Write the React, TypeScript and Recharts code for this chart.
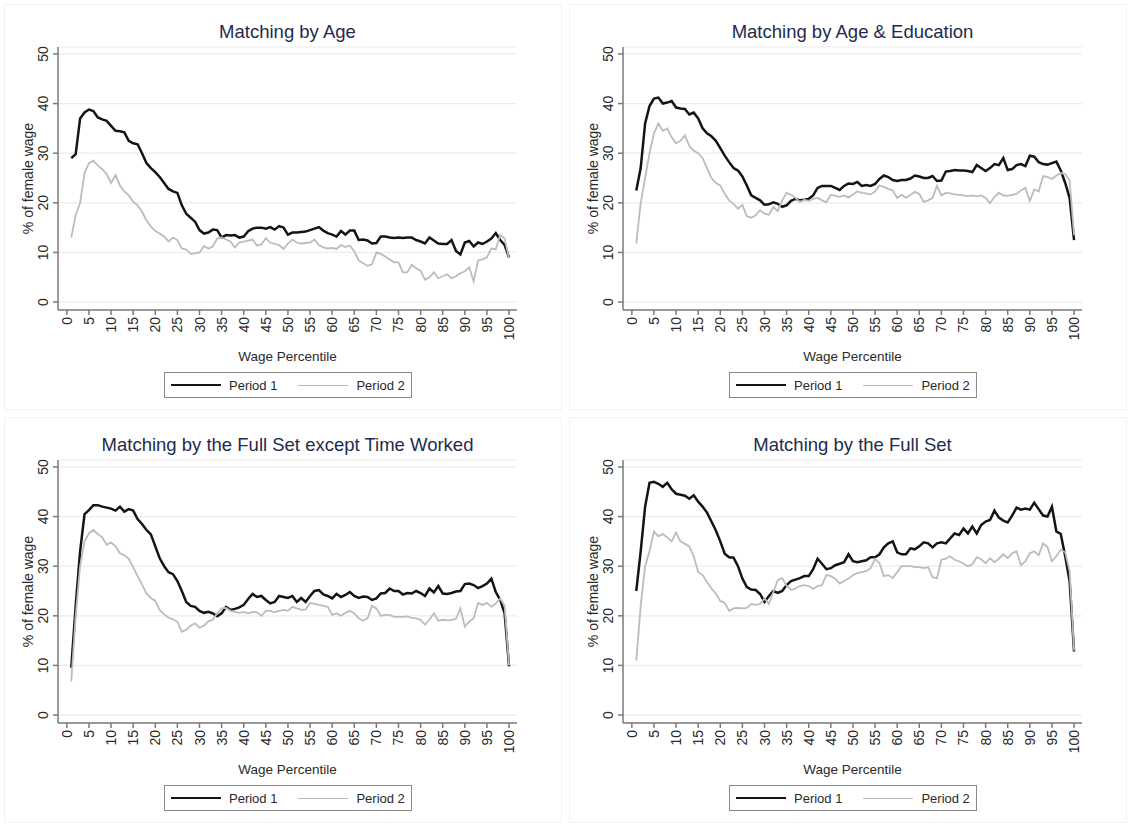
import { CartesianGrid, Label, Line, LineChart, XAxis, YAxis } from "recharts"

const percentiles = Array.from({ length: 100 }, (_, i) => i + 1)
const xTicks = [0, 5, 10, 15, 20, 25, 30, 35, 40, 45, 50, 55, 60, 65, 70, 75, 80, 85, 90, 95, 100]
const yTicks = [0, 10, 20, 30, 40, 50]
const seriesNames = ["Period 1", "Period 2"]

// Matching by Age
const ageP1 = [
  29, 29.8, 37, 38.2, 38.8, 38.5, 37.2, 36.8, 36.5, 35.5,
  34.5, 34.4, 34.2, 32.5, 32, 31.8, 30, 28, 27, 26.2,
  25.2, 24, 22.8, 22.3, 22, 19.5, 17.8, 17, 16.2, 14.5,
  13.8, 14, 14.6, 14.5, 13, 13.5, 13.4, 13.5, 13, 13.2,
  14.3, 14.8, 15, 15, 14.8, 15.1, 14.6, 15.3, 15, 13.6,
  14, 14, 14.1, 14.2, 14.5, 14.8, 15.1, 14.4, 13.9, 13.6,
  13.2, 14.3, 13.6, 14.4, 14.4, 12.5, 12.6, 12.4, 11.8, 11.9,
  13.2, 13.2, 13, 12.9, 13, 12.9, 13, 13, 12.5, 12.2,
  11.8, 13, 12.4, 11.8, 11.7, 11.7, 12.5, 10.3, 9.6, 12,
  12.3, 11.2, 12, 11.7, 12.2, 12.8, 13.9, 12.5, 11.5, 9,
]
const ageP2 = [
  13, 17.5, 20, 26, 28, 28.5, 27.5, 26.8, 25.8, 24,
  25.6, 23.5, 22.3, 21.5, 20.2, 19.5, 18.2, 16.5, 15.2, 14.3,
  13.8, 13.2, 12.2, 13, 12.5, 10.8, 10.6, 9.7, 9.8, 10,
  11.3, 10.8, 11.2, 12.8, 13, 12.6, 12.2, 11, 12, 12.2,
  12.4, 12.6, 11.4, 11.6, 12.9, 12, 11.7, 11.5, 10.7, 11.8,
  12.6, 12, 11.8, 11.9, 12, 12.6, 11.5, 11, 10.8, 10.9,
  10.7, 11.5, 11.1, 11.4, 10.2, 8.4, 7.8, 7.3, 7.6, 10,
  9.7, 9.2, 8.6, 8, 8, 6, 6, 7.5, 6.8, 6.3,
  4.5, 5, 6, 4.8, 5.2, 5.6, 4.8, 5.2, 5.8, 6.2,
  7, 4.2, 8.4, 8.6, 9, 10.8, 10.6, 13.5, 12.8, 8.8,
]

// Matching by Age & Education
const ageEduP1 = [
  22.5, 27, 36, 39.5, 41, 41.2, 40, 40.2, 40.5, 39.2,
  39, 38.9, 37.8, 38.2, 37, 35, 34, 33.4, 32.5, 31,
  29.5, 28.2, 27, 26.5, 25.3, 23.5, 21.5, 21, 20.5, 19.6,
  19.7, 20.1, 19.8, 19.2, 19.5, 20.4, 20.8, 20.5, 20.6, 20.8,
  21.5, 23, 23.4, 23.4, 23.4, 23, 22.6, 23.4, 23.9, 23.8,
  24.2, 23.4, 23.6, 23.4, 23.8, 24.8, 25.5, 25.2, 24.6, 24.4,
  24.6, 24.6, 24.9, 25.5, 25.3, 25, 25, 25.4, 24.4, 24.5,
  26.3, 26.4, 26.6, 26.5, 26.5, 26.4, 26.2, 27.6, 27, 26.4,
  27, 27.8, 27.6, 29, 26.6, 26.8, 27.6, 27.8, 27.4, 29.5,
  29.3, 28.2, 27.8, 27.7, 28, 28.3, 26.5, 24, 21, 12.5,
]
const ageEduP2 = [
  11.8, 20, 25, 30, 34, 36, 34.5, 35, 33.2, 32,
  32.5, 33.6, 31.5, 30.5, 30, 29, 27, 25, 24, 23.5,
  21.8, 20.5, 19.8, 18.8, 19.6, 17.3, 17, 17.5, 18.5, 17.8,
  17.6, 19.2, 18.3, 20.5, 22, 21.6, 21, 20.2, 20.6, 20.4,
  20.8, 21, 20.5, 20.1, 21.6, 21.4, 21.2, 21.5, 21.1, 21.7,
  22.3, 22, 21.9, 21.7, 22.3, 23.5, 23.2, 22.8, 22.5, 21,
  21.6, 21, 21.6, 22.2, 21.8, 20.2, 20.5, 21, 23.4, 21.5,
  22, 21.9, 21.7, 21.6, 21.5, 21.3, 21.5, 21.3, 21.5, 21,
  19.9, 21.2, 22, 21.5, 21.4, 21.6, 21.8, 22.5, 23, 20.4,
  22.7, 22.3, 25.4, 25.2, 24.8, 25.5, 26, 25.8, 24.5, 13.5,
]

// Matching by the Full Set except Time Worked
const fullExP1 = [
  9.5, 22, 33, 40.5, 41.3, 42.3, 42.3, 42, 41.8, 41.6,
  41.2, 42, 41, 41.5, 41.2, 39.5, 38.5, 37.3, 36.4, 34,
  31.6, 30, 28.8, 28.4, 27, 25, 22.8, 22, 21.8, 21,
  20.6, 20.8, 20.5, 19.9, 20.5, 21.8, 21.2, 21.4, 21.7, 22.2,
  23.4, 24.4, 23.8, 24, 23.2, 22.5, 22.8, 24, 23.8, 23.6,
  24, 22.8, 23.6, 22.8, 24, 25, 25.2, 24.3, 24, 23.5,
  24.4, 23.8, 24.2, 24.8, 24, 23.6, 23.9, 23.8, 23.2, 23.5,
  24.5, 24.6, 25.5, 25, 25, 24.3, 24.6, 24.5, 25, 24.6,
  24, 25.5, 24.7, 26, 24.5, 24.4, 24.6, 24.9, 25, 26.4,
  26.5, 26.2, 25.6, 26, 26.5, 27.5, 24.8, 23.2, 20.5, 9.8,
]
const fullExP2 = [
  6.8, 20, 30, 35, 36.6, 37.3, 36.5, 35.8, 34.3, 34.8,
  34, 32.6, 32.2, 31.5, 29.8, 28, 26.3, 24.5, 23.6, 23,
  21.2, 20.3, 19.6, 19.3, 18.8, 16.8, 17.2, 18, 18.5, 17.6,
  18, 18.9, 19.2, 20.5, 21.5, 21.6, 21, 20.8, 20.6, 20.8,
  20.5, 20.8, 20.7, 20, 21, 21, 20.7, 21, 21.2, 21,
  21.8, 21.5, 21.2, 21.3, 22.6, 22.4, 22.2, 22, 21.8, 20.2,
  20.5, 20, 20.6, 21, 20.5, 19.5, 19, 19.5, 22, 21.5,
  20, 20.2, 20.2, 19.8, 19.8, 19.8, 19.9, 19.6, 19.5, 19.2,
  18.2, 19.2, 20.5, 19, 19.2, 19.1, 19.2, 19.4, 21.5, 17.8,
  18.8, 19.5, 22.6, 22.2, 22.6, 21.8, 22.5, 23.5, 22, 10,
]

// Matching by the Full Set
const fullP1 = [
  25, 33, 42, 46.8, 47, 46.6, 46, 46.8, 45.5, 44.6,
  44.4, 44.2, 43.6, 44.3, 43, 42, 40.8, 39, 37.2, 35,
  32.5, 31.8, 31.7, 30, 27.5, 25.8, 25.3, 25.2, 24.4, 22.8,
  24, 25, 24.6, 25, 26.2, 27, 27.3, 27.6, 28, 28,
  29.4, 31.5, 30.5, 29.4, 29.6, 30.2, 30.5, 30.8, 32.4, 31,
  30.8, 31, 31.2, 31.8, 31.8, 32.4, 33.8, 34.6, 35, 32.8,
  32.4, 32.4, 33.6, 33.4, 34, 34.8, 34.6, 33.8, 34.6, 34.8,
  34.6, 35.6, 36.6, 36.3, 37.6, 36.6, 38, 36.6, 38.3, 39,
  39.3, 41.2, 39.8, 39.2, 38.8, 40.2, 41.8, 41.4, 41.6, 41.4,
  42.8, 41.5, 40.2, 40, 42, 37, 36.5, 32, 27, 12.8,
]
const fullP2 = [
  11, 22, 30, 33, 37, 36, 36.5, 35.8, 35, 36.8,
  35, 34.5, 34, 32, 28.8, 28.2, 26.8, 25.5, 24.5, 23,
  22.6, 21, 21.5, 21.6, 21.5, 21.6, 22.4, 22.2, 22.4, 23.5,
  22.4, 24.8, 27.2, 27.6, 26, 25.2, 25.5, 26, 26.2, 26,
  25.4, 26, 26.2, 28.2, 28, 27.5, 26.5, 27, 27.5, 28.2,
  28.6, 28.8, 29, 29.6, 31.5, 30.6, 28, 28.2, 27.6, 28.8,
  30, 30, 30, 29.8, 29.8, 29.6, 29.8, 27.8, 27.6, 31.3,
  31.5, 32, 31.3, 31, 30.5, 30, 30.4, 31.8, 31.4, 30.6,
  31.6, 30.8, 31.5, 32.4, 31.6, 32.6, 33, 30.2, 31, 32.6,
  33, 32.2, 34.6, 33.8, 31, 32, 33.3, 32.8, 29, 13,
]

const panels = [
  { title: "Matching by Age", p1: ageP1, p2: ageP2 },
  { title: "Matching by Age & Education", p1: ageEduP1, p2: ageEduP2 },
  { title: "Matching by the Full Set except Time Worked", p1: fullExP1, p2: fullExP2 },
  { title: "Matching by the Full Set", p1: fullP1, p2: fullP2 },
]

const FONT = "'Liberation Sans', Arial, sans-serif"
const AXIS = "#7a7a7a"
const TEXT = "#2a2a2a"
const P1_COLOR = "#141414"
const P2_COLOR = "#bcbcbc"

function XTick(props: any) {
  const { x, y, payload } = props
  return (
    <text
      x={x}
      y={y}
      transform={`rotate(-90, ${x}, ${y})`}
      textAnchor="end"
      dominantBaseline="central"
      fontSize={14}
      fontFamily={FONT}
      fill={TEXT}
    >
      {payload.value}
    </text>
  )
}

function YTick(props: any) {
  const { x, y, payload } = props
  const tx = x - 3
  return (
    <text
      x={tx}
      y={y}
      transform={`rotate(-90, ${tx}, ${y})`}
      textAnchor="middle"
      fontSize={14}
      fontFamily={FONT}
      fill={TEXT}
    >
      {payload.value}
    </text>
  )
}

function YTitle(props: any) {
  const { viewBox } = props
  const x = viewBox.x + 33
  const y = viewBox.y + viewBox.height / 2
  return (
    <text x={x} y={y} transform={`rotate(-90, ${x}, ${y})`} textAnchor="middle" fontSize={14} fontFamily={FONT} fill={TEXT}>
      % of female wage
    </text>
  )
}

function XTitle(props: any) {
  const { viewBox } = props
  return (
    <text x={viewBox.x + viewBox.width / 2} y={viewBox.y + 51} textAnchor="middle" fontSize={13.5} fontFamily={FONT} fill={TEXT}>
      Wage Percentile
    </text>
  )
}

function Panel({ title, p1, p2 }: { title: string; p1: number[]; p2: number[] }) {
  const data = percentiles.map((x, i) => ({ x, p1: p1[i], p2: p2[i] }))
  return (
    <div style={{ position: "relative", width: 564, height: 412, background: "#fff" }}>
      <div
        style={{
          position: "absolute",
          left: 4,
          top: 4,
          width: 556,
          height: 404,
          border: "1px solid #f3f3f3",
          pointerEvents: "none",
        }}
      />
      <div
        style={{
          position: "absolute",
          left: 0,
          top: 20,
          width: 575,
          textAlign: "center",
          fontFamily: FONT,
          fontSize: 18.5,
          color: "#1f2b4d",
          lineHeight: "24px",
        }}
      >
        {title}
      </div>
      <LineChart width={564} height={412} data={data} margin={{ top: 47, right: 47, bottom: 56, left: 0 }}>
        <CartesianGrid vertical={false} stroke="#ececec" strokeWidth={1.2} />
        <XAxis
          type="number"
          dataKey="x"
          domain={[-2, 101.8]}
          ticks={xTicks}
          interval={0}
          height={46}
          stroke={AXIS}
          strokeWidth={1.5}
          tickSize={5}
          tick={<XTick />}
        >
          <Label content={<XTitle />} />
        </XAxis>
        <YAxis
          type="number"
          domain={[-1.6, 51.4]}
          ticks={yTicks}
          interval={0}
          width={58}
          stroke={AXIS}
          strokeWidth={1.5}
          tickSize={5}
          tick={<YTick />}
        >
          <Label content={<YTitle />} />
        </YAxis>
        <Line
          type="linear"
          dataKey="p1"
          name={seriesNames[0]}
          stroke={P1_COLOR}
          strokeWidth={2.5}
          dot={false}
          isAnimationActive={false}
        />
        <Line
          type="linear"
          dataKey="p2"
          name={seriesNames[1]}
          stroke={P2_COLOR}
          strokeWidth={1.8}
          dot={false}
          isAnimationActive={false}
        />
      </LineChart>
      <div
        style={{
          position: "absolute",
          left: 164,
          top: 372,
          width: 246,
          height: 24,
          border: "1.5px solid #8a8a8a",
          display: "flex",
          alignItems: "center",
          fontFamily: FONT,
          fontSize: 13,
          color: TEXT,
        }}
      >
        <span style={{ display: "inline-block", width: 50, height: 0, borderTop: `2.5px solid ${P1_COLOR}`, marginLeft: 6 }} />
        <span style={{ marginLeft: 8 }}>{seriesNames[0]}</span>
        <span style={{ display: "inline-block", width: 50, height: 0, borderTop: `1.8px solid ${P2_COLOR}`, marginLeft: 21 }} />
        <span style={{ marginLeft: 8 }}>{seriesNames[1]}</span>
      </div>
    </div>
  )
}

export default function App() {
  return (
    <div
      style={{
        position: "absolute",
        left: 0,
        top: 0,
        width: 1129,
        height: 825,
        background: "#fff",
        display: "grid",
        gridTemplateColumns: "564px 564px",
        gridTemplateRows: "412px 412px",
        columnGap: 1,
        rowGap: 1,
      }}
    >
      {panels.map((p) => (
        <Panel key={p.title} title={p.title} p1={p.p1} p2={p.p2} />
      ))}
    </div>
  )
}
